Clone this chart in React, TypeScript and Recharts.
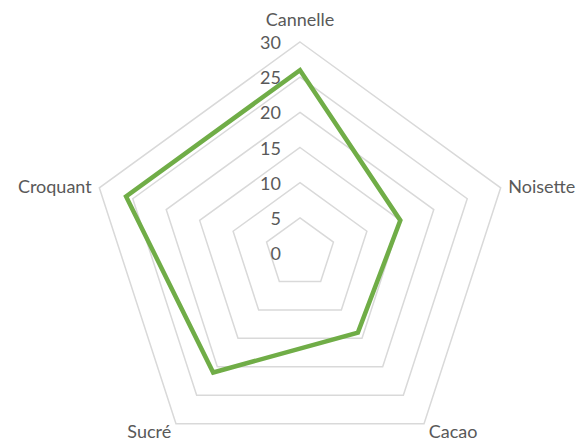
import React from 'react'
import { RadarChart, Radar, PolarGrid, PolarAngleAxis, PolarRadiusAxis } from 'recharts';

const categories = ['Cannelle', 'Noisette', 'Cacao', 'Sucré', 'Croquant'];
const scores = [26, 15, 14, 21, 26];
const radiusTicks = [0, 5, 10, 15, 20, 25, 30];

const FONT = 'Lato, "Open Sans", sans-serif';
const TEXT_COLOR = '#595959';

const AngleTick = (props: any) => {
  const { x, y, payload, textAnchor } = props;
  const isTop = Math.abs(payload.coordinate - 90) < 1;
  return (
    <text
      x={x}
      y={isTop ? y - 15 : y + 1}
      textAnchor={isTop ? 'middle' : textAnchor}
      dominantBaseline="central"
      fontFamily={FONT}
      fontSize={18}
      fill={TEXT_COLOR}
    >
      {payload.value}
    </text>
  );
};

const RadiusTick = (props: any) => {
  const { x, y, payload } = props;
  return (
    <text
      x={x - 19}
      y={y}
      textAnchor="end"
      dominantBaseline="central"
      fontFamily={FONT}
      fontSize={18}
      fill={TEXT_COLOR}
    >
      {payload.value}
    </text>
  );
};

const App = () => {
  const data = categories.map((name, i) => ({ name, value: scores[i] }));

  return (
    <div style={{ position: 'fixed', left: 0, top: 0, background: '#fff' }}>
      <RadarChart
        width={584}
        height={441}
        data={data}
        cx={300}
        cy={253}
        outerRadius={211}
        margin={{ top: 0, right: 0, bottom: 0, left: 0 }}
      >
        <PolarGrid gridType="polygon" radialLines={false} stroke="#d9d9d9" strokeWidth={1.5} />
        <PolarAngleAxis dataKey="name" tick={<AngleTick />} tickLine={false} axisLine={false} />
        <PolarRadiusAxis
          angle={90}
          domain={[0, 30]}
          ticks={radiusTicks}
          tickCount={7}
          axisLine={false}
          tickLine={false}
          tick={<RadiusTick />}
        />
        <Radar
          dataKey="value"
          stroke="#70ad47"
          strokeWidth={4.5}
          fill="none"
          fillOpacity={0}
          dot={false}
          isAnimationActive={false}
        />
      </RadarChart>
    </div>
  );
};

export default App;
